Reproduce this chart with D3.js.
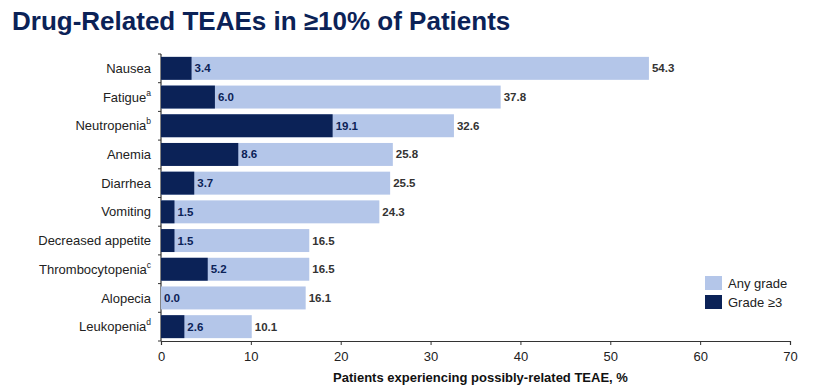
<!DOCTYPE html>
<html>
<head>
<meta charset="utf-8">
<script src="https://cdn.jsdelivr.net/npm/d3@7"></script>
<style>
body { margin: 0; background: #fff; }
text { font-family: Arial, "Liberation Sans", sans-serif; }
</style>
</head>
<body>
<div id="chart"></div>
<script>
// Data
var events = ["Nausea", "Fatigue", "Neutropenia", "Anemia", "Diarrhea", "Vomiting",
              "Decreased appetite", "Thrombocytopenia", "Alopecia", "Leukopenia"];
var notes = ["", "a", "b", "", "", "", "", "c", "", "d"];
var anyGrade = [54.3, 37.8, 32.6, 25.8, 25.5, 24.3, 16.5, 16.5, 16.1, 10.1];
var grade3 = [3.4, 6.0, 19.1, 8.6, 3.7, 1.5, 1.5, 5.2, 0.0, 2.6];
var xTicks = [0, 10, 20, 30, 40, 50, 60, 70];
var legendLabels = ["Any grade", "Grade \u22653"];

var W = 832, H = 389;
var margin = {top: 54, right: 42, bottom: 48, left: 161};
var width = W - margin.left - margin.right,
    height = H - margin.top - margin.bottom;

var light = "#b4c6e9", dark = "#0b2257";

var rows = events.map(function(e, i) {
  return {name: e, note: notes[i], any: anyGrade[i], g3: grade3[i]};
});

var svg = d3.select("#chart").append("svg")
  .attr("width", W).attr("height", H);

svg.append("text")
  .attr("x", 12).attr("y", 30)
  .attr("fill", dark)
  .attr("font-size", 26)
  .attr("font-weight", "bold")
  .text("Drug-Related TEAEs in \u226510% of Patients");

var g = svg.append("g")
  .attr("transform", "translate(" + margin.left + "," + margin.top + ")");

var x = d3.scaleLinear().domain([0, 70]).range([0, width]);
var y = d3.scaleBand().domain(events).range([0, height]).paddingInner(0.2).paddingOuter(0.1);

// x axis
var xAxis = g.append("g")
  .attr("transform", "translate(0," + height + ")")
  .call(d3.axisBottom(x).tickValues(xTicks).tickSize(4).tickSizeOuter(4));
xAxis.select(".domain").attr("stroke", "#333").attr("stroke-width", 1.2);
xAxis.selectAll(".tick line").attr("stroke", "#333");
xAxis.selectAll("text").attr("font-size", 13).attr("fill", "#222").attr("dy", "1em");

// y axis: line with ticks at the band boundaries
g.append("line")
  .attr("x1", 0).attr("x2", 0).attr("y1", 0).attr("y2", height)
  .attr("stroke", "#333").attr("stroke-width", 1.2);
var step = y.step();
var y0 = y(events[0]) - step * y.paddingInner() / 2;
g.selectAll(".ytick").data(d3.range(events.length + 1)).enter()
  .append("line")
  .attr("x1", -3).attr("x2", 0)
  .attr("y1", function(i) { return y0 + i * step; })
  .attr("y2", function(i) { return y0 + i * step; })
  .attr("stroke", "#333");

// category labels
var lab = g.selectAll(".lab").data(rows).enter()
  .append("text")
  .attr("x", -10)
  .attr("y", function(d) { return y(d.name) + y.bandwidth() / 2; })
  .attr("dy", "0.35em")
  .attr("text-anchor", "end")
  .attr("font-size", 13)
  .attr("fill", "#222");
lab.append("tspan").text(function(d) { return d.name; });
lab.append("tspan")
  .attr("font-size", 8.5)
  .attr("dy", "-0.7em")
  .text(function(d) { return d.note; });

// bars
g.selectAll(".any").data(rows).enter()
  .append("rect")
  .attr("x", 0)
  .attr("y", function(d) { return y(d.name); })
  .attr("width", function(d) { return x(d.any); })
  .attr("height", y.bandwidth())
  .attr("fill", light);

g.selectAll(".g3").data(rows).enter()
  .append("rect")
  .attr("x", 0)
  .attr("y", function(d) { return y(d.name); })
  .attr("width", function(d) { return x(d.g3); })
  .attr("height", y.bandwidth())
  .attr("fill", dark);

// value labels
g.selectAll(".vany").data(rows).enter()
  .append("text")
  .attr("x", function(d) { return x(d.any) + 3; })
  .attr("y", function(d) { return y(d.name) + y.bandwidth() / 2; })
  .attr("dy", "0.35em")
  .attr("font-size", 11.5)
  .attr("font-weight", "bold")
  .attr("fill", "#333")
  .text(function(d) { return d.any.toFixed(1); });

g.selectAll(".vg3").data(rows).enter()
  .append("text")
  .attr("x", function(d) { return x(d.g3) + 3; })
  .attr("y", function(d) { return y(d.name) + y.bandwidth() / 2; })
  .attr("dy", "0.35em")
  .attr("font-size", 11.5)
  .attr("font-weight", "bold")
  .attr("fill", dark)
  .text(function(d) { return d.g3.toFixed(1); });

// x axis title
g.append("text")
  .attr("x", width / 2 + 5)
  .attr("y", height + 41)
  .attr("text-anchor", "middle")
  .attr("font-size", 13)
  .attr("font-weight", "bold")
  .attr("fill", "#111")
  .text("Patients experiencing possibly-related TEAE, %");

// legend
var legend = svg.selectAll(".legend").data(legendLabels).enter()
  .append("g")
  .attr("transform", function(d, i) { return "translate(705," + (276 + i * 19) + ")"; });
legend.append("rect")
  .attr("width", 17).attr("height", 14)
  .attr("fill", function(d, i) { return i === 0 ? light : dark; });
legend.append("text")
  .attr("x", 23).attr("y", 11.5)
  .attr("font-size", 13)
  .attr("fill", "#222")
  .text(function(d) { return d; });
</script>
</body>
</html>
